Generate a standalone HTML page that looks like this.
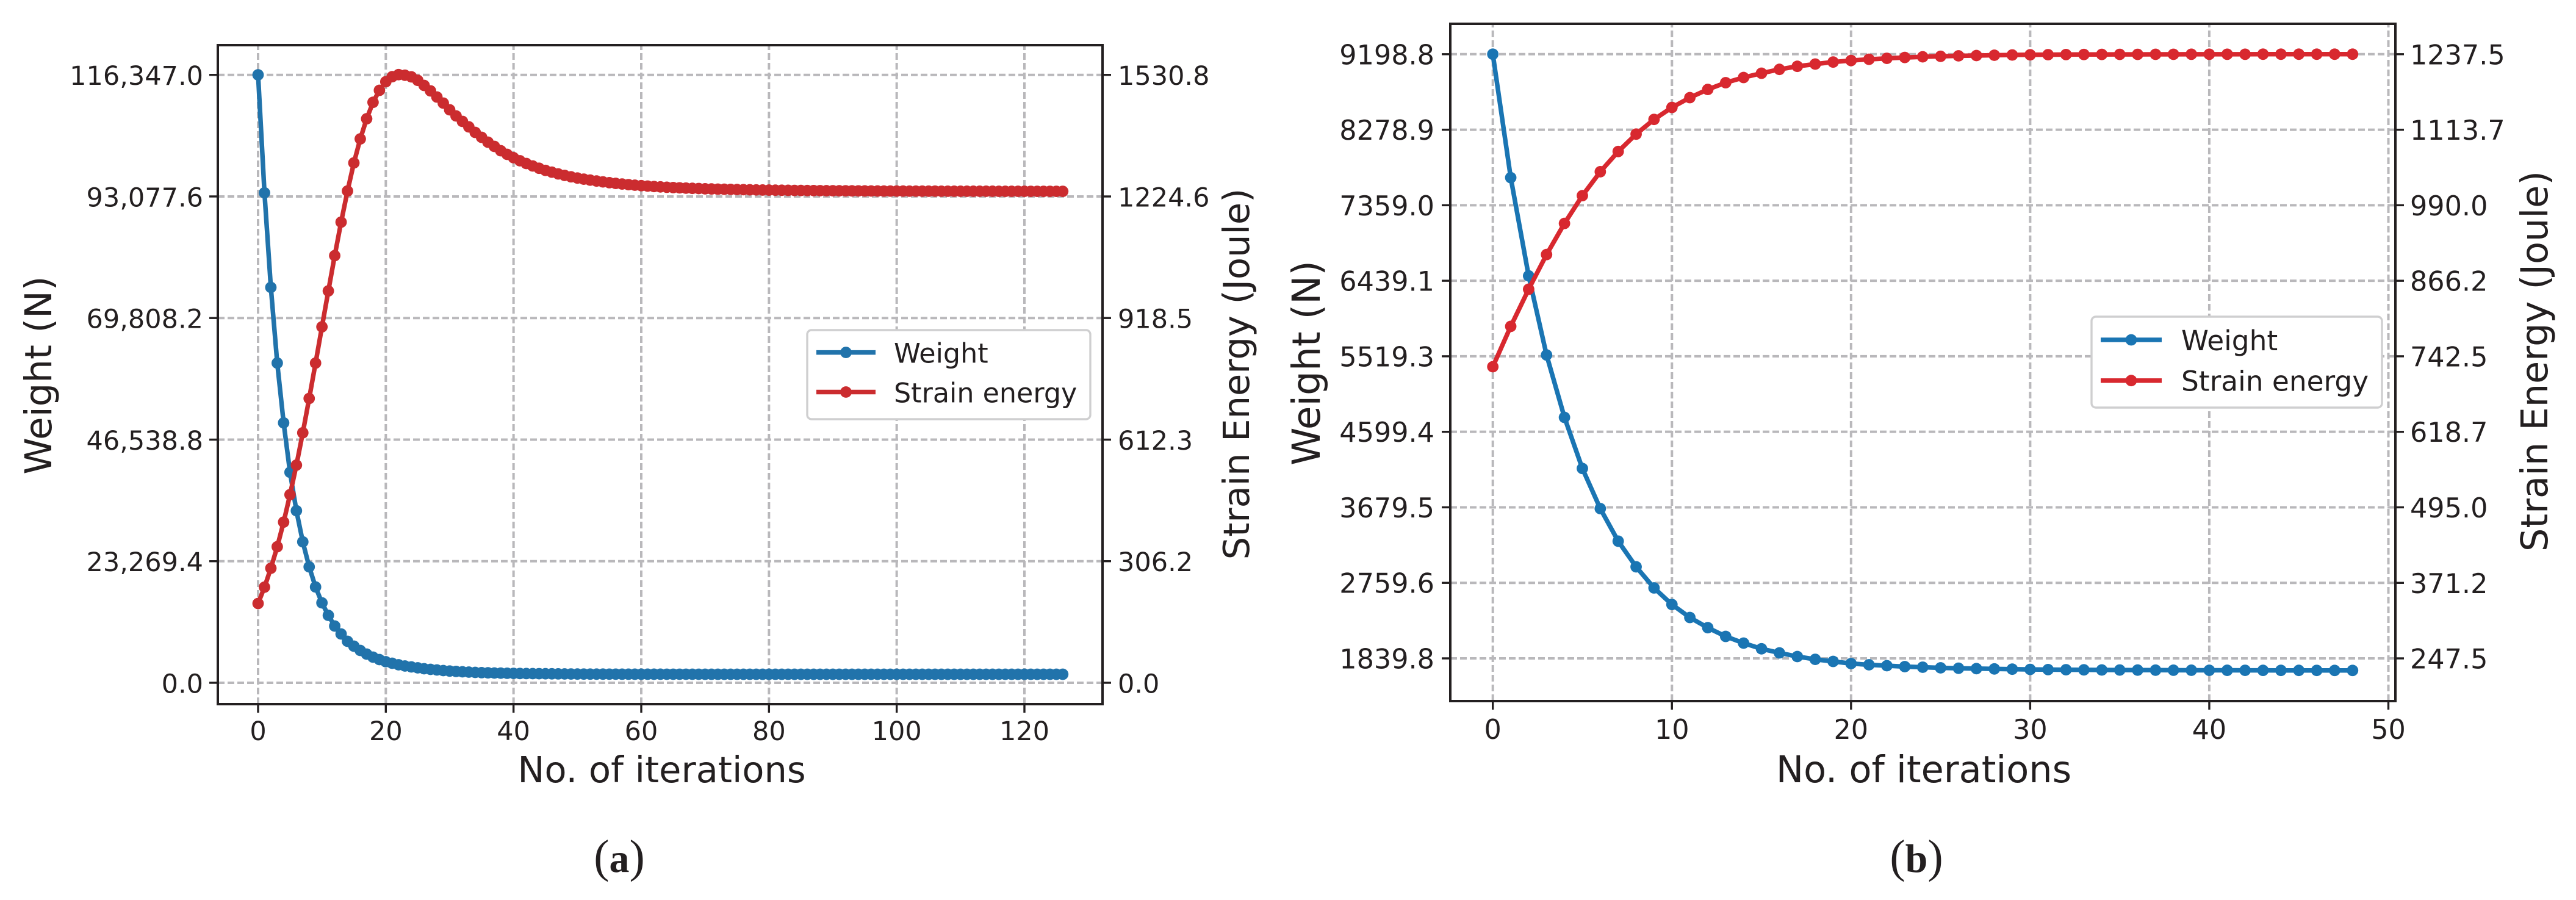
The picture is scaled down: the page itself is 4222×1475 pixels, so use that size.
<!DOCTYPE html>
<html lang="en">
<head>
<meta charset="utf-8">
<title>Weight and strain energy convergence</title>
<style>
html,body{margin:0;padding:0;background:#fff;}
svg{display:block;}
text{font-family:"DejaVu Sans","Liberation Sans",sans-serif;fill:#231f20;}
.caption{font-family:"Liberation Serif",serif;font-size:76px;}
</style>
</head>
<body>
<svg id="figure" xmlns="http://www.w3.org/2000/svg" width="4222" height="1475" viewBox="0 0 4222 1475">
  <rect x="0" y="0" width="4222" height="1475" fill="#ffffff"/>
  <g id="panel-a"></g>
  <g id="panel-b"></g>

  <text x="1084.5" y="1282" font-size="59" text-anchor="middle">No. of iterations</text>
  <text transform="translate(84 615) rotate(-90)" font-size="61" text-anchor="middle">Weight (N)</text>
  <text transform="translate(2047 613) rotate(-90)" font-size="59" text-anchor="middle">Strain Energy (Joule)</text>
  <text class="caption" x="1015" y="1429" text-anchor="middle">(<tspan font-weight="bold" font-size="66">a</tspan>)</text>

  <text x="3153" y="1282" font-size="60.5" text-anchor="middle">No. of iterations</text>
  <text transform="translate(2163 595) rotate(-90)" font-size="63" text-anchor="middle">Weight (N)</text>
  <text transform="translate(4175 592) rotate(-90)" font-size="60.5" text-anchor="middle">Strain Energy (Joule)</text>
  <text class="caption" x="3141" y="1429" text-anchor="middle">(<tspan font-weight="bold" font-size="66">b</tspan>)</text>
</svg>
<script>
// ---- Panel (a) data ----
const weightA = [
116347,93774,75673,61193,49748,40289,32932,26976,22188,18334,
15298,12904,10861,9342,7941,7007,6189,5489,4905,4438,
4029,3737,3445,3211,3036,2861,2686,2569,2452,2336,
2242,2172,2102,2044,1985,1939,1904,1868,1845,1822,
1798,1775,1763,1752,1740,1728,1717,1705,1693,1682,
1670,1666,1662,1659,1656,1653,1650,1648,1646,1644,
1642,1641,1640,1639,1638,1637,1636,1636,1635,1635,
1634,1634,1633,1633,1633,1632,1632,1632,1632,1631,
1631,1631,1631,1631,1630,1630,1630,1630,1630,1630,
1630,1630,1630,1630,1630,1630,1630,1630,1630,1630,
1630,1629,1629,1629,1629,1629,1629,1629,1629,1629,
1629,1629,1629,1629,1629,1629,1629,1629,1629,1629,
1629,1629,1629,1629,1629,1629,1629
];
const strainA = [
199.7,240.8,288.4,342.6,404.6,473.7,548.1,629.5,716,805.1,
896.3,986.7,1075.6,1160,1238.4,1309.1,1369.5,1420.2,1461.7,1491.9,
1513.5,1526.2,1531.4,1529.9,1525.8,1517,1504.2,1490.4,1475,1459.7,
1442.8,1427.4,1413.6,1399.8,1385.9,1373.6,1361.3,1350.6,1339.8,1330.6,
1322.2,1314.5,1307.6,1301.4,1295.6,1290.3,1285.8,1281.4,1277.6,1274.1,
1271,1268.2,1265.8,1263.5,1261.3,1259.3,1257.5,1255.9,1254.4,1253,
1251.8,1250.7,1249.6,1248.7,1247.8,1247,1246.3,1245.6,1245,1244.6,
1243.9,1243.5,1243,1242.7,1242.4,1242,1241.7,1241.4,1241.1,1240.8,
1240.6,1240.4,1240.2,1240,1239.8,1239.7,1239.5,1239.4,1239.2,1239.1,
1239,1238.9,1238.8,1238.7,1238.6,1238.5,1238.4,1238.3,1238.2,1238.2,
1238.1,1238.1,1238,1238,1237.9,1237.9,1237.9,1237.8,1237.8,1237.8,
1237.7,1237.7,1237.7,1237.7,1237.7,1237.7,1237.6,1237.6,1237.6,1237.6,
1237.6,1237.5,1237.5,1237.5,1237.5,1237.5,1237.5
];
const xTicksA = [0,20,40,60,80,100,120];
const weightTicksA = [0,23269.4,46538.8,69808.2,93077.6,116347.0];
const weightTickLabelsA = ["0.0","23,269.4","46,538.8","69,808.2","93,077.6","116,347.0"];
const strainTicksA = [0,306.2,612.3,918.5,1224.6,1530.8];
const strainTickLabelsA = ["0.0","306.2","612.3","918.5","1224.6","1530.8"];

// ---- Panel (b) data ----
const weightB = [
9198.8,7695,6498.8,5535,4774.8,4152.9,3664,3267.2,2955.1,2698,
2495.9,2337.6,2213.6,2107.3,2025.6,1956.5,1906.7,1862.1,1827.9,1802.6,
1776.6,1761.8,1750.6,1739.5,1732.1,1724.6,1719.4,1715,1711.3,1708.3,
1705.3,1703.1,1701.6,1700.1,1698.6,1697.9,1697.1,1696.4,1695.7,1695.2,
1694.8,1694.4,1694.1,1693.8,1693.5,1693.3,1693.1,1692.9,1692.8
];
const strainB = [
725.4,791.5,852.3,909.2,960.2,1005.7,1044.9,1078,1106.5,1130.6,
1150.2,1166.3,1179.7,1190.8,1199.3,1206.3,1212.6,1217.6,1221.3,1224.6,
1227.1,1229.1,1230.7,1232.1,1233.2,1234,1234.8,1235.3,1235.8,1236.2,
1236.5,1236.7,1236.9,1237,1237.1,1237.2,1237.2,1237.3,1237.3,1237.4,
1237.4,1237.4,1237.4,1237.5,1237.5,1237.5,1237.5,1237.5,1237.5
];
const xTicksB = [0,10,20,30,40,50];
const weightTicksB = [1839.8,2759.6,3679.5,4599.4,5519.3,6439.1,7359.0,8278.9,9198.8];
const weightTickLabelsB = ["1839.8","2759.6","3679.5","4599.4","5519.3","6439.1","7359.0","8278.9","9198.8"];
const strainTicksB = [247.5,371.2,495.0,618.7,742.5,866.2,990.0,1113.7,1237.5];
const strainTickLabelsB = ["247.5","371.2","495.0","618.7","742.5","866.2","990.0","1113.7","1237.5"];

const legendLabels = ["Weight","Strain energy"];

// ---- Drawing ----
const NS = "http://www.w3.org/2000/svg";
const INK = "#231f20";
const GRID = "#b9b8bb";

function make(tag, attrs, parent, text) {
  const el = document.createElementNS(NS, tag);
  for (const k in attrs) el.setAttribute(k, attrs[k]);
  if (text !== undefined) el.textContent = text;
  parent.appendChild(el);
  return el;
}

function linearScale(d0, d1, r0, r1) {
  return function (v) { return r0 + (v - d0) / (d1 - d0) * (r1 - r0); };
}

function drawPanel(root, prefix, box, xAxis, leftAxis, rightAxis, xTicks, wTicks, wLabels, sTicks, sLabels, weight, strain, colors, fonts, legend) {
  const gridG = make("g", {}, root);
  
  

  wTicks.forEach(function (t) {
    const y = leftAxis(t);
    const line = make("line", {x1: box.left, x2: box.right, y1: y, y2: y, stroke: GRID, "stroke-width": 4, "stroke-dasharray": "11 5"}, gridG);
    
    
  });
  xTicks.forEach(function (t) {
    const x = xAxis(t);
    const line = make("line", {x1: x, x2: x, y1: box.bottom, y2: box.top, stroke: GRID, "stroke-width": 4, "stroke-dasharray": "11 5"}, gridG);
    
    
  });

  function series(values, yAxis, color, name) {
    const g = make("g", {}, root);
    
    
    const pts = values.map(function (v, i) { return xAxis(i).toFixed(2) + "," + yAxis(v).toFixed(2); }).join(" ");
    const path = make("polyline", {points: pts, fill: "none", stroke: color, "stroke-width": 7.5, "stroke-linejoin": "round"}, g);
    
    
    values.forEach(function (v, i) {
      const c = make("circle", {cx: xAxis(i).toFixed(2), cy: yAxis(v).toFixed(2), r: 9.4, fill: color}, g);
      
      
    });
  }
  series(weight, leftAxis, colors.blue, "weight");
  series(strain, rightAxis, colors.red, "strain-energy");

  const frame = make("rect", {x: box.left, y: box.top, width: box.right - box.left, height: box.bottom - box.top, fill: "none", stroke: INK, "stroke-width": 4}, root);
  
  

  xTicks.forEach(function (t, i) {
    const x = xAxis(t);
    const mark = make("line", {x1: x, x2: x, y1: box.bottom, y2: box.bottom + 14, stroke: INK, "stroke-width": 3.4}, root);
    
    
    const lab = make("text", {x: x, y: fonts.xTickBase, "font-size": fonts.tick, "text-anchor": "middle"}, root, String(t));
    
    
  });
  wTicks.forEach(function (t, i) {
    const y = leftAxis(t);
    const mark = make("line", {x1: box.left - 14, x2: box.left, y1: y, y2: y, stroke: INK, "stroke-width": 3.4}, root);
    
    
    const lab = make("text", {x: fonts.leftEnd, y: y + 16.5, "font-size": fonts.tick, "text-anchor": "end"}, root, wLabels[i]);
    
    
  });
  sTicks.forEach(function (t, i) {
    const y = rightAxis(t);
    const mark = make("line", {x1: box.right, x2: box.right + 14, y1: y, y2: y, stroke: INK, "stroke-width": 3.4}, root);
    
    
    const lab = make("text", {x: fonts.rightStart, y: y + 16.5, "font-size": fonts.tick}, root, sLabels[i]);
    
    
  });

  const lg = make("g", {}, root);
  
  
  const lgBox = make("rect", {x: legend.x, y: legend.y, width: legend.w, height: legend.h, rx: 7, fill: "#ffffff", stroke: "#cfcfd0", "stroke-width": 3.4}, lg);
  
  
  legendLabels.forEach(function (label, i) {
    const color = i === 0 ? colors.blue : colors.red;
    const entry = make("g", {}, lg);
    
    
    const y = legend.rows[i];
    make("line", {x1: legend.lineX0, x2: legend.lineX1, y1: y, y2: y, stroke: color, "stroke-width": 7.5}, entry);
    make("circle", {cx: (legend.lineX0 + legend.lineX1) / 2, cy: y, r: 9.4, fill: color}, entry);
    make("text", {x: legend.textX, y: legend.bases[i], "font-size": fonts.legend}, entry, label);
  });
}

// Panel (a) axes
const boxA = {left: 357, right: 1807, top: 74, bottom: 1154};
const xA = linearScale(0, 120, 423, 1679);
const yWeightA = linearScale(0, 116347, 1119, 122.7);
const yStrainA = linearScale(0, 1530.8, 1119, 122.7);
drawPanel(document.getElementById("panel-a"), "panel-a", boxA, xA, yWeightA, yStrainA,
  xTicksA, weightTicksA, weightTickLabelsA, strainTicksA, strainTickLabelsA, weightA, strainA,
  {blue: "#2173ab", red: "#cb2c2f"},
  {tick: 43, legend: 44.4, xTickBase: 1213, leftEnd: 333, rightStart: 1832},
  {x: 1323, y: 541, w: 464, h: 146, lineX0: 1338, lineX1: 1435, rows: [577.6, 642.5], textX: 1465, bases: [594.5, 659.5]});

// Panel (b) axes
const boxB = {left: 2377, right: 3926, top: 39, bottom: 1149};
const xB = linearScale(0, 50, 2446.7, 3914.5);
const yWeightB = linearScale(1839.8, 9198.8, 1079, 88.8);
const yStrainB = linearScale(247.5, 1237.5, 1079, 88.8);
drawPanel(document.getElementById("panel-b"), "panel-b", boxB, xB, yWeightB, yStrainB,
  xTicksB, weightTicksB, weightTickLabelsB, strainTicksB, strainTickLabelsB, weightB, strainB,
  {blue: "#1a75b3", red: "#d8282f"},
  {tick: 44.5, legend: 45.4, xTickBase: 1211, leftEnd: 2351, rightStart: 3950},
  {x: 3428, y: 519, w: 476, h: 149, lineX0: 3443, lineX1: 3543, rows: [557, 623.7], textX: 3575, bases: [574, 640.5]});
</script>
</body>
</html>
